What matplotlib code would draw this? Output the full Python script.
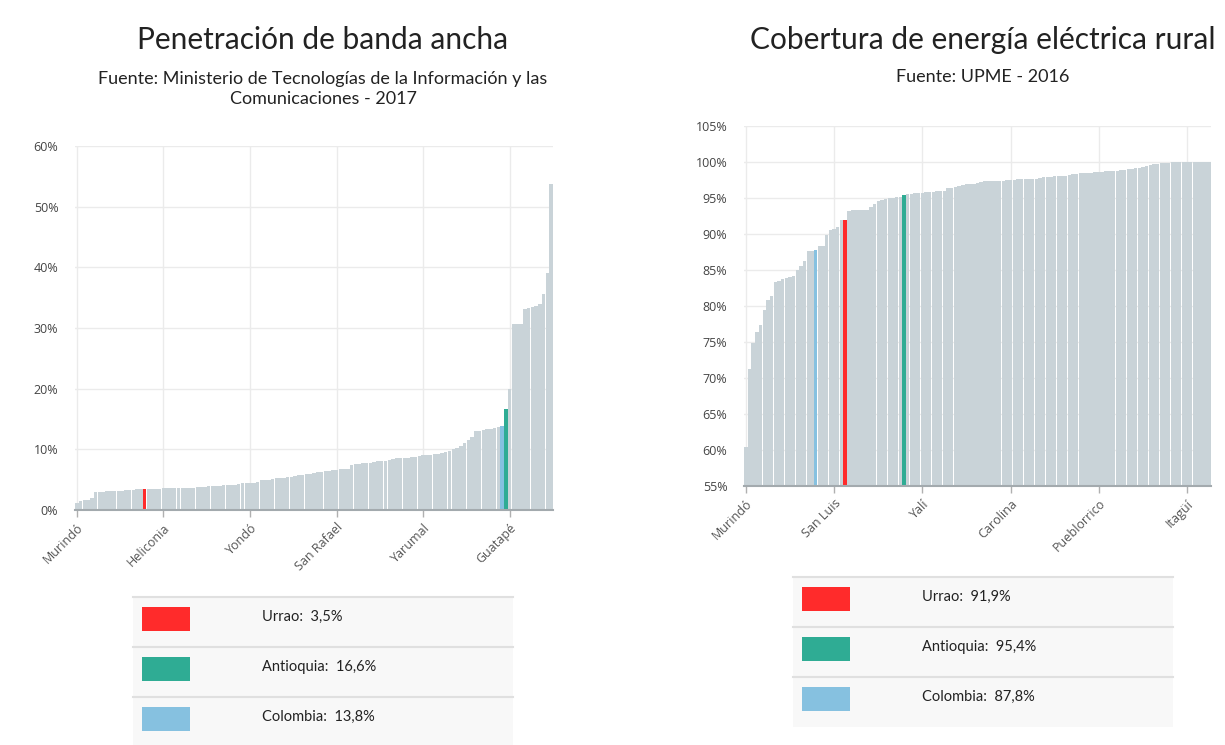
import matplotlib
matplotlib.use('Agg')
import matplotlib.pyplot as plt
from matplotlib.patches import Rectangle
from matplotlib.ticker import FuncFormatter

# ---------------------------------------------------------------- data

# penetracion de banda ancha (%), municipios ordenados de menor a mayor
banda = [1.1, 1.5, 1.6, 1.7, 1.9,
         2.9, 3.0, 3.0, 3.1, 3.1, 3.1, 3.2, 3.2, 3.3, 3.3, 3.3, 3.4, 3.4,
         3.5,
         3.5, 3.5, 3.5, 3.5, 3.6, 3.6, 3.6, 3.6, 3.6, 3.7, 3.7, 3.7,
         3.7, 3.8, 3.8, 3.8, 3.9, 3.9,
         4.0, 4.0, 4.1, 4.1, 4.2, 4.2,
         4.3, 4.4, 4.4, 4.5, 4.5, 4.6,
         4.9, 5.0, 5.0, 5.1, 5.2, 5.2,
         5.3, 5.4, 5.5, 5.6, 5.7, 5.8, 5.9, 6.0, 6.1, 6.2,
         6.3, 6.4, 6.5, 6.6, 6.6, 6.7, 6.8, 6.8,
         7.5, 7.6, 7.6, 7.7, 7.7, 7.8,
         7.9, 8.0, 8.0, 8.1, 8.2,
         8.4, 8.5, 8.5, 8.6, 8.6, 8.7, 8.8, 8.9,
         9.0, 9.0, 9.1, 9.2, 9.3, 9.4, 9.5, 9.7,
         10.0, 10.2, 10.6, 11.0, 11.5, 12.0,
         13.0, 13.1, 13.2, 13.3, 13.4, 13.5, 13.6,
         13.8, 16.6, 20.0,
         30.6, 30.6, 30.7, 33.2, 33.3, 33.5, 33.7, 34.0,
         35.6, 39.0, 53.7]

# cobertura de energia electrica rural (%)
energia = [60.4, 71.3, 74.8, 76.4, 77.4, 79.4, 80.8, 81.4, 83.3, 83.5,
           83.7, 83.9, 84.0, 84.2, 85.0, 85.6, 86.2, 87.7,
           87.7, 87.8, 88.3, 88.4, 89.8, 90.5, 90.7, 91.0, 91.9,
           91.9,
           93.2, 93.3, 93.3, 93.3, 93.3, 93.4, 93.8, 94.1,
           94.6, 94.7, 94.8, 95.0, 95.0, 95.1, 95.2,
           95.4,
           95.6, 95.6, 95.7, 95.7, 95.7, 95.8, 95.8, 95.9,
           96.0, 96.0, 96.0, 96.4, 96.4, 96.5, 96.6,
           96.8, 96.9, 96.9, 97.0, 97.1,
           97.2, 97.3, 97.3, 97.3, 97.4, 97.4, 97.4,
           97.5, 97.5, 97.5, 97.6, 97.6, 97.6, 97.7, 97.7, 97.7,
           97.8, 97.9, 97.9, 97.9, 98.0, 98.0,
           98.1, 98.1, 98.2,
           98.4, 98.4, 98.5, 98.5, 98.5, 98.5, 98.6, 98.6, 98.6,
           98.7, 98.7, 98.8, 98.8, 98.9, 98.9, 99.0, 99.0,
           99.1, 99.2, 99.3,
           99.5, 99.6, 99.7, 99.7, 99.8, 99.9, 99.9,
           100.0, 100.0, 100.0, 100.0, 100.0, 100.0, 100.0, 100.0, 100.0,
           100.0, 100.0]

banda_ticks = ['Murindó', 'Heliconia', 'Yondó', 'San Rafael', 'Yarumal', 'Guatapé']
energia_ticks = ['Murindó', 'San Luis', 'Yalí', 'Carolina', 'Pueblorrico', 'Itagüí']
banda_step = 23
energia_step = 24

legend_names = ['Urrao', 'Antioquia', 'Colombia']
banda_hl = [18, 114, 113]          # posicion de cada barra resaltada
energia_hl = [27, 43, 19]
banda_legend = [3.5, 16.6, 13.8]
energia_legend = [91.9, 95.4, 87.8]

colors = {'Urrao': '#ff2b2b', 'Antioquia': '#2fac94', 'Colombia': '#86c1e0'}
bar_gray = '#c9d3d8'

# ---------------------------------------------------------------- figure

plt.rcParams['font.family'] = ['Open Sans', 'DejaVu Sans']
fig = plt.figure(figsize=(12.25, 7.45), dpi=100)
W, H = 1225, 745


def px_axes(x0, y0, x1, y1):
    return fig.add_axes([x0 / W, 1 - y1 / H, (x1 - x0) / W, (y1 - y0) / H])


def panel(ax, values, ticks, step, hl, ymin, ymax, ystep):
    cols = [bar_gray] * len(values)
    for name, i in zip(legend_names, hl):
        cols[i] = colors[name]
    heights = [v - ymin for v in values]
    ax.bar(range(len(values)), heights, bottom=ymin, width=0.93,
           color=cols, linewidth=0, zorder=2)
    ax.set_xlim(-0.5, len(values) - 0.5)
    ax.set_ylim(ymin, ymax)
    ax.set_yticks(range(ymin, ymax + 1, ystep))
    ax.yaxis.set_major_formatter(FuncFormatter(lambda v, p: '%d%%' % v))
    ax.set_xticks([k * step for k in range(len(ticks))])
    ax.set_xticklabels(ticks, rotation=45, ha='right', rotation_mode='anchor')
    ax.grid(True, color='#ebebeb', linewidth=1, zorder=0)
    ax.set_axisbelow(True)
    for s in ['top', 'right', 'left']:
        ax.spines[s].set_visible(False)
    ax.spines['bottom'].set_color('#a3aaae')
    ax.spines['bottom'].set_linewidth(1.5)
    ax.spines['bottom'].set_zorder(3)
    ax.tick_params(axis='y', length=0, pad=12, labelsize=9, labelcolor='#444444')
    ax.tick_params(axis='x', length=5, width=1, color='#b0b0b0', pad=3,
                   labelsize=9, labelcolor='#555555')


ax1 = px_axes(75, 146, 553, 510)
panel(ax1, banda, banda_ticks, banda_step, banda_hl, 0, 60, 10)

ax2 = px_axes(744, 126, 1211, 486)
panel(ax2, energia, energia_ticks, energia_step, energia_hl, 55, 105, 5)

# ---------------------------------------------------------------- titles + legend tables

ov = fig.add_axes([0, 0, 1, 1])
ov.set_xlim(0, W)
ov.set_ylim(H, 0)
ov.axis('off')
ov.set_zorder(-1)

tfont = ['Lato', 'DejaVu Sans']
ov.text(323, 40, 'Penetración de banda ancha', ha='center', va='center',
        fontsize=21.5, family=tfont, color='#222222')
ov.text(323, 89, 'Fuente: Ministerio de Tecnologías de la Información y las\nComunicaciones - 2017',
        ha='center', va='center', fontsize=13, family=tfont, color='#222222',
        linespacing=1.25)
ov.text(983, 40, 'Cobertura de energía eléctrica rural', ha='center', va='center',
        fontsize=21.5, family=tfont, color='#222222')
ov.text(983, 77, 'Fuente: UPME - 2016', ha='center', va='center',
        fontsize=13, family=tfont, color='#222222')


def table(x0, y0, vals):
    row_h = 50
    for k, (name, v) in enumerate(zip(legend_names, vals)):
        top = y0 + k * row_h
        ov.add_patch(Rectangle((x0, top), 380, row_h, facecolor='#f8f8f8',
                               edgecolor='none'))
        ov.plot([x0, x0 + 380], [top, top], color='#e0e0e0', linewidth=1.5)
        ov.add_patch(Rectangle((x0 + 9, top + 10), 48, 24,
                               facecolor=colors[name], edgecolor='none'))
        txt = '%s:  %s%%' % (name, ('%.1f' % v).replace('.', ','))
        ov.text(x0 + 129, top + 20, txt, ha='left', va='center',
                fontsize=10.5, family=tfont, color='#222222')


table(133, 597, banda_legend)
table(793, 577, energia_legend)

fig.savefig('out.png', dpi=100)
